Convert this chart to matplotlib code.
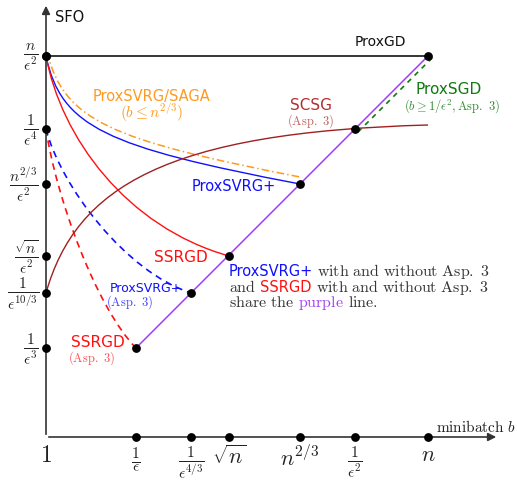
import numpy as np
import matplotlib
matplotlib.use('Agg')
import matplotlib.pyplot as plt
from matplotlib.path import Path
from matplotlib.patches import PathPatch

plt.rcParams['mathtext.fontset'] = 'cm'
plt.rcParams['font.family'] = ['DejaVu Sans']

# positions on the schematic axes (pixel-like units from the origin)
x_ticks = [90, 145, 183, 254, 309, 382]
x_labels = [r'$\frac{1}{\epsilon}$', r'$\frac{1}{\epsilon^{4/3}}$', r'$\sqrt{n}$',
            r'$n^{2/3}$', r'$\frac{1}{\epsilon^{2}}$', r'$n$']
y_ticks = [381, 308, 253, 181, 144, 89]
y_labels = [r'$\frac{n}{\epsilon^2}$', r'$\frac{1}{\epsilon^4}$', r'$\frac{n^{2/3}}{\epsilon^2}$',
            r'$\frac{\sqrt{n}}{\epsilon^2}$', r'$\frac{1}{\epsilon^{10/3}}$', r'$\frac{1}{\epsilon^3}$']

# purple line: SFO = b / eps^2 from b=1/eps to b=n
purple_x = [90, 382]
purple_y = [89, 381]
# ProxGD horizontal
proxgd_x = [0, 382]
proxgd_y = [381, 381]
# ProxSGD dashed
proxsgd_x = [312, 387]
proxsgd_y = [305, 380]

# curves as cubic bezier control points
curve_svrg_plus = [(0, 381), (15, 310), (60, 290), (254, 253)]
curve_svrg_saga = [(1, 385), (18, 316), (65, 297), (254, 260)]
curve_ssrgd = [(0, 381), (15, 300), (80, 210), (183, 181)]
curve_ssrgd_a3 = [(0, 308), (10, 240), (50, 130), (90, 89)]
curve_svrg_a3 = [(0, 308), (15, 250), (80, 165), (145, 144)]
curve_scsg = [(0, 144), (30, 250), (120, 305), (382, 312)]

# dots on the curves
dot_x = [0, 382, 309, 254, 183, 145, 90]
dot_y = [381, 381, 308, 253, 181, 144, 89]

RED = '#ff1010'
BLUE = '#1010ff'
ORANGE = '#ff9a20'
BROWN = '#a02020'
PURPLE = '#a040f0'
GREEN = '#107a10'
TXT = '#333333'

fig = plt.figure(figsize=(5.17, 4.81), dpi=100)
ax = fig.add_axes([0, 0, 1, 1])
ax.set_xlim(-46, 471)
ax.set_ylim(-43, 438)
ax.axis('off')


def bezier(pts, color, ls='-', lw=1.0):
    codes = [Path.MOVETO, Path.CURVE4, Path.CURVE4, Path.CURVE4]
    p = PathPatch(Path(pts, codes), fill=False, edgecolor=color, lw=lw,
                  linestyle=ls, capstyle='butt')
    ax.add_patch(p)


# axes arrows
ax.annotate('', xy=(453, 0), xytext=(0, 0),
            arrowprops=dict(arrowstyle='-|>', color='#333333', lw=1.2, mutation_scale=12))
ax.annotate('', xy=(0, 434), xytext=(0, 0),
            arrowprops=dict(arrowstyle='-|>', color='#333333', lw=1.2, mutation_scale=12))

# lines
ax.plot(proxgd_x, proxgd_y, color='black', lw=1.1)
ax.plot(purple_x, purple_y, color=PURPLE, lw=1.1)
ax.plot(proxsgd_x, proxsgd_y, color=GREEN, lw=1.2, ls=(0, (3, 3)))

bezier(curve_svrg_saga, ORANGE, ls=(0, (5, 2, 1, 2)), lw=1.1)
bezier(curve_svrg_plus, BLUE, lw=1.0)
bezier(curve_ssrgd, RED, lw=1.0)
bezier(curve_ssrgd_a3, RED, ls=(0, (4, 3)), lw=1.2)
bezier(curve_svrg_a3, BLUE, ls=(0, (4, 3)), lw=1.2)
bezier(curve_scsg, BROWN, lw=1.0)

# dots
ax.scatter(dot_x, dot_y, s=28, color='black', zorder=5)
ax.scatter(x_ticks, [0] * len(x_ticks), s=28, color='black', zorder=5, clip_on=False)
ax.scatter([0] * len(y_ticks), y_ticks, s=28, color='black', zorder=5, clip_on=False)

# tick labels
for x, lab in zip(x_ticks, x_labels):
    ax.text(x, -7, lab, ha='center', va='top', fontsize=16, color='#222222')
for y, lab in zip(y_ticks, y_labels):
    ax.text(-7, y, lab, ha='right', va='center', fontsize=16, color='#222222')
ax.text(0, -5, r'$1$', ha='center', va='top', fontsize=17, color='#222222')

ax.text(9, 420, 'SFO', ha='left', va='center', fontsize=10.5, color='#111111')
ax.text(390, 11, r'$\mathrm{minibatch}\ b$', ha='left', va='center', fontsize=11, color='#222222')

# curve labels
ax.text(334, 396, 'ProxGD', ha='center', va='center', fontsize=10, color='#111111')
ax.text(106, 342, 'ProxSVRG/SAGA', ha='center', va='center', fontsize=10.5, color=ORANGE)
ax.text(106, 325, r'$(b \leq n^{2/3})$', ha='center', va='center', fontsize=11, color=ORANGE)
ax.text(188, 251, 'ProxSVRG+', ha='center', va='center', fontsize=10.5, color=BLUE)
ax.text(265, 333, 'SCSG', ha='center', va='center', fontsize=11, color='#b03030')
ax.text(265, 317, r'$\mathrm{(Asp.\ 3)}$', ha='center', va='center', fontsize=9, color='#c06060')
ax.text(403, 348, 'ProxSGD', ha='center', va='center', fontsize=11, color=GREEN)
ax.text(406, 332, r'$(b \geq 1/\epsilon^2, \mathrm{Asp.\ 3})$', ha='center', va='center',
        fontsize=9, color='#308a30')
ax.text(135, 181, 'SSRGD', ha='center', va='center', fontsize=11, color=RED)
ax.text(100, 149, 'ProxSVRG+', ha='center', va='center', fontsize=9, color=BLUE)
ax.text(84, 136, r'$\mathrm{(Asp.\ 3)}$', ha='center', va='center', fontsize=9, color='#4040ff')
ax.text(52, 95, 'SSRGD', ha='center', va='center', fontsize=11, color=RED)
ax.text(46, 80, r'$\mathrm{(Asp.\ 3)}$', ha='center', va='center', fontsize=9, color='#ff5050')

# multicolor note
fig.canvas.draw()
renderer = fig.canvas.get_renderer()
note_lines = [
    [('ProxSVRG+', BLUE, 'sans'), (r'$\mathrm{with\ and\ without\ Asp.\ 3}$', TXT, 'math')],
    [(r'$\mathrm{and}$', TXT, 'math'), ('SSRGD', RED, 'sans'),
     (r'$\mathrm{with\ and\ without\ Asp.\ 3}$', TXT, 'math')],
    [(r'$\mathrm{share\ the}$', TXT, 'math'), (r'$\mathrm{purple}$', PURPLE, 'math'),
     (r'$\mathrm{line.}$', TXT, 'math')],
]
note_y = [162, 146, 131]
inv = ax.transData.inverted()
for parts, y in zip(note_lines, note_y):
    x = 183
    for s, c, kind in parts:
        fs = 10.5 if kind == 'sans' else 11.5
        t = ax.text(x, y, s, ha='left', va='baseline', fontsize=fs, color=c)
        bb = t.get_window_extent(renderer)
        x = inv.transform((bb.x1, bb.y0))[0] + 4

fig.savefig('out.png', dpi=100)
